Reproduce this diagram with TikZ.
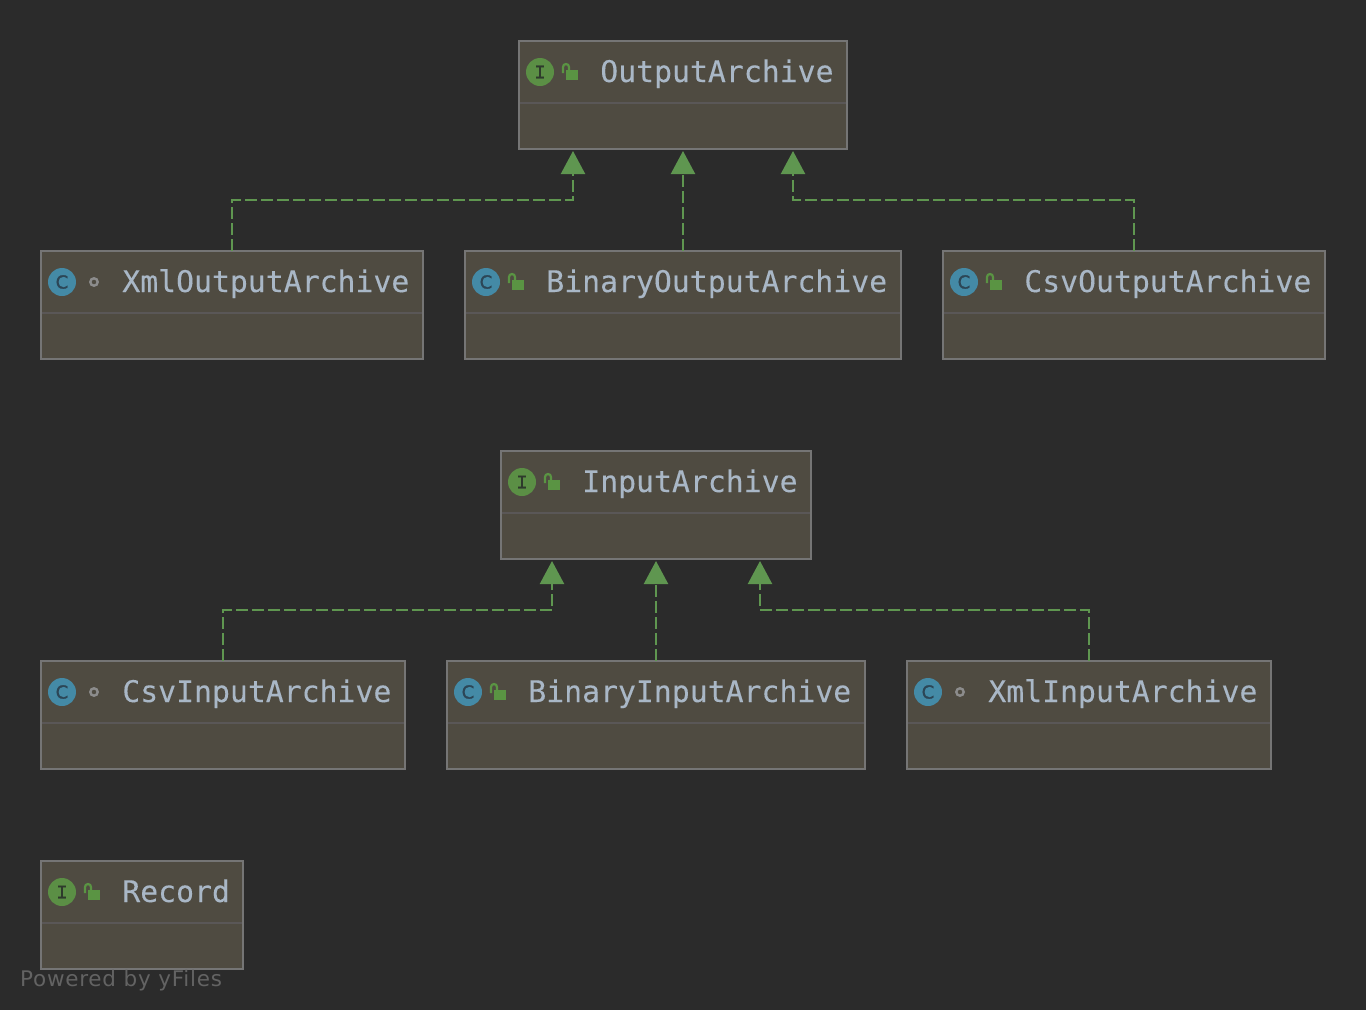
\documentclass[tikz,border=0pt]{standalone}
\usepackage{fontspec}
\setmainfont{DejaVu Sans}
\newfontfamily\labelfont{DejaVu Sans Mono}[FakeBold=0.15]
\newfontfamily\serifmono{Liberation Mono}[FakeBold=0.8]
\newfontfamily\circfont{DejaVu Sans}[FakeBold=1.2]
\newfontfamily\waterfont{DejaVu Sans}[LetterSpace=3.5]
\usetikzlibrary{arrows.meta}
\definecolor{bgc}{HTML}{2B2B2B}
\definecolor{boxfill}{HTML}{4F4B41}
\definecolor{boxline}{HTML}{757575}
\definecolor{sepline}{HTML}{5A5757}
\definecolor{labelc}{HTML}{A9B7C6}
\definecolor{greenc}{HTML}{5F9650}
\definecolor{lockc}{HTML}{5A9443}
\definecolor{iconi}{HTML}{5B8F45}
\definecolor{iconc}{HTML}{448AA6}
\definecolor{icondarki}{HTML}{2E3A2C}
\definecolor{icondarkc}{HTML}{2C4656}
\definecolor{dotc}{HTML}{8C8C8C}
\definecolor{waterc}{HTML}{636363}
\tikzset{
  umlbox/.style={draw=boxline,fill=boxfill,line width=2pt,rectangle,inner sep=0pt,outer sep=0pt,minimum height=108pt,anchor=north west},
  umllabel/.style={text=labelc,font=\labelfont\fontsize{29.8}{30}\selectfont,anchor=base west,inner sep=0pt,outer sep=0pt},
  sepstyle/.style={draw=sepline,line width=2pt},
  roundicon/.style={circle,minimum size=28pt,inner sep=0pt,outer sep=0pt},
  impl/.style={draw=greenc,line width=2.2pt,dash pattern=on 12pt off 4pt,-{Triangle[length=23pt,width=24pt,fill=greenc]}},
}
\newcommand{\iconI}[1]{\node[roundicon,fill=iconi,text=icondarki,font=\serifmono\fontsize{19}{19}\selectfont] (#1-kind) at (21,31) {I};}
\newcommand{\iconC}[1]{\node[roundicon,fill=iconc,text=icondarkc,font=\circfont\fontsize{18}{18}\selectfont] (#1-kind) at (21,31) {C};}
\newcommand{\visopen}{%
  \fill[lockc] (47,29) rectangle (59,39);
  \draw[lockc,line width=2.2pt] (44,32) -- (44,26) arc[start angle=180,end angle=0,x radius=3,y radius=-3] -- (50,29);
}
\newcommand{\vispkg}{\draw[dotc,line width=2.4pt] (53,31) circle[radius=3.7];}
\newcommand{\umlclass}[7]{%
  \node[umlbox,minimum width=#4 pt] (#1) at (#2,#3) {};
  \begin{scope}[shift={(#1.north west)}]
    \draw[sepstyle] (1,62) -- (#4-1,62);
    #5{#1}
    #6
    \node[umllabel] (#1-label) at (81.3,41) {#7};
  \end{scope}
}
\begin{document}
\begin{tikzpicture}[x=1pt,y=-1pt]
\useasboundingbox (0,0) rectangle (1366,1010);
\fill[bgc] (0,0) rectangle (1366,1010);
\umlclass{oa}{519}{41}{328}{\iconI}{\visopen}{OutputArchive}
\umlclass{xo}{41}{251}{382}{\iconC}{\vispkg}{XmlOutputArchive}
\umlclass{bo}{465}{251}{436}{\iconC}{\visopen}{BinaryOutputArchive}
\umlclass{co}{943}{251}{382}{\iconC}{\visopen}{CsvOutputArchive}
\umlclass{ia}{501}{451}{310}{\iconI}{\visopen}{InputArchive}
\umlclass{ci}{41}{661}{364}{\iconC}{\vispkg}{CsvInputArchive}
\umlclass{bi}{447}{661}{418}{\iconC}{\visopen}{BinaryInputArchive}
\umlclass{xi}{907}{661}{364}{\iconC}{\vispkg}{XmlInputArchive}
\umlclass{rc}{41}{861}{202}{\iconI}{\visopen}{Record}
\coordinate (oaL) at (573,151);
\coordinate (oaR) at (793,151);
\coordinate (iaL) at (552,561);
\coordinate (iaR) at (760,561);
\coordinate (oaLb) at (573,200);
\coordinate (oaRb) at (793,200);
\coordinate (iaLb) at (552,610);
\coordinate (iaRb) at (760,610);
\draw[impl] (xo.north) |- (oaLb) -- (oaL);
\draw[impl,shorten >=2pt] (bo.north) -- (oa.south);
\draw[impl] (co.north) |- (oaRb) -- (oaR);
\draw[impl] (ci.north) |- (iaLb) -- (iaL);
\draw[impl,shorten >=2pt] (bi.north) -- (ia.south);
\draw[impl] (xi.north) |- (iaRb) -- (iaR);
\node[text=waterc,font=\waterfont\fontsize{21.5}{23}\selectfont,anchor=base west,inner sep=0pt] (wm) at (20,986) {Powered by yFiles};
\end{tikzpicture}
\end{document}
